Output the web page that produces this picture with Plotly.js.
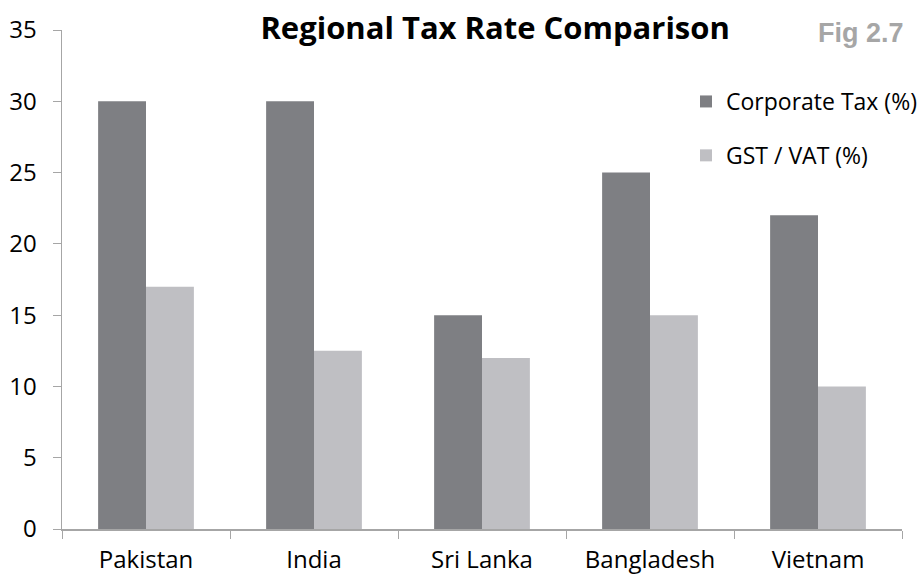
<!DOCTYPE html>
<html>
<head>
<meta charset="utf-8">
<script src="https://cdn.plot.ly/plotly-3.0.1.min.js"></script>
<style>
  html, body { margin: 0; padding: 0; background: #fff; }
  #chart { width: 922px; height: 579px; }
</style>
</head>
<body>
<div id="chart"></div>
<script>
const countries = ['Pakistan', 'India', 'Sri Lanka', 'Bangladesh', 'Vietnam'];
const corporateTax = [30, 30, 15, 25, 22];
const gstVat = [17, 12.5, 12, 15, 10];

const font = '"Open Sans", sans-serif';

const data = [
  {
    type: 'bar',
    name: 'Corporate Tax (%)',
    x: countries,
    y: corporateTax,
    marker: { color: '#7e7f83' },
    legendgroup: 'a',
    hoverinfo: 'x+y'
  },
  {
    type: 'bar',
    name: 'GST / VAT (%)',
    x: countries,
    y: gstVat,
    marker: { color: '#bfbfc3' },
    legendgroup: 'b',
    hoverinfo: 'x+y'
  }
];

const layout = {
  width: 922,
  height: 579,
  margin: { l: 62, r: 20, t: 30, b: 50, autoexpand: false },
  paper_bgcolor: '#fff',
  plot_bgcolor: '#fff',
  font: { family: font, size: 23, color: '#000' },
  barmode: 'group',
  bargap: 0.43,
  bargroupgap: 0,
  title: {
    text: '<b>Regional Tax Rate Comparison</b>',
    font: { family: font, size: 31, color: '#000' },
    x: 0.537, xanchor: 'center',
    y: 0.951, yanchor: 'middle'
  },
  xaxis: {
    type: 'category',
    automargin: false,
    showline: true,
    linecolor: '#a6a6a6',
    linewidth: 1.5,
    ticks: 'outside',
    tickson: 'boundaries',
    ticklen: 8,
    tickcolor: '#a6a6a6',
    tickangle: 0,
    ticklabelstandoff: 9,
    showgrid: false,
    tickfont: { family: font, size: 24 }
  },
  yaxis: {
    range: [0, 35],
    dtick: 5,
    automargin: false,
    showline: true,
    linecolor: '#a6a6a6',
    linewidth: 1.5,
    ticks: 'outside',
    ticklen: 8,
    tickcolor: '#a6a6a6',
    ticklabelstandoff: 11,
    showgrid: false,
    zeroline: false,
    tickfont: { family: font, size: 24 }
  },
  legend: {
    x: (686 - 62) / 840, xanchor: 'left',
    y: 1 - (80 - 30) / 499, yanchor: 'top',
    traceorder: 'grouped',
    tracegroupgap: 21,
    itemwidth: 30,
    font: { family: font, size: 23 },
    bgcolor: 'rgba(0,0,0,0)'
  },
  annotations: [{
    text: '<b>Fig 2.7</b>',
    xref: 'paper', yref: 'paper',
    x: 1.005, xanchor: 'right',
    y: 0.994, yanchor: 'middle',
    showarrow: false,
    font: { family: '"Liberation Sans", Arial, sans-serif', size: 27, color: '#a6a6a6' }
  }]
};

Plotly.newPlot('chart', data, layout, { displayModeBar: false, staticPlot: true });
</script>
</body>
</html>
